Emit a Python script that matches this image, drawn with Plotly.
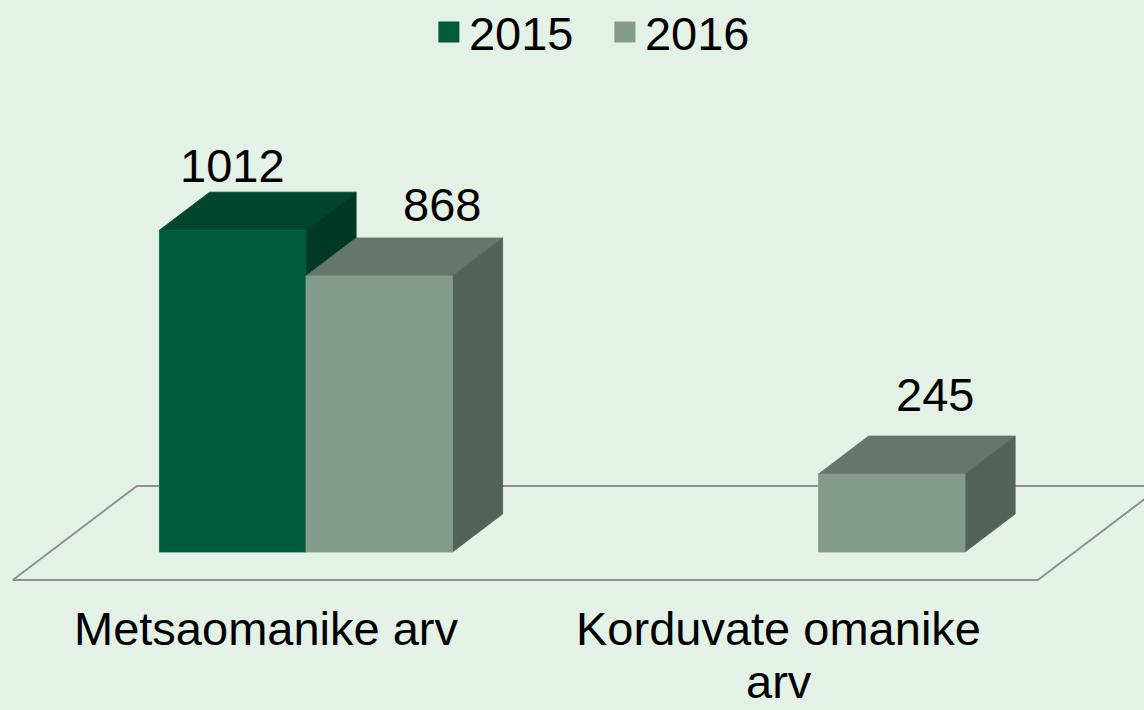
import plotly.graph_objects as go

# ---------------- data ----------------
categories = ["Metsaomanike arv", "Korduvate omanike<br>arv"]
series_names = ["2015", "2016"]
values_2015 = [1012, None]
values_2016 = [868, 245]

# ---------------- style ----------------
BG = "rgb(228,241,231)"
FRONT = ["rgb(0,90,60)", "rgb(131,155,141)"]
TOP = ["rgb(0,70,46)", "rgb(101,118,108)"]
SIDE = ["rgb(0,58,38)", "rgb(84,99,90)"]
FLOOR_LINE = "rgb(145,145,145)"
FONT = "Arial, Liberation Sans, sans-serif"
FS = 47

W, H = 1144, 710
M_B = 120
PLOT_H = H - M_B
PX_PER_CAT = 512.5      # pixels per category unit
PX_PER_VAL = 0.318      # pixels per value unit
X0_PX = 306             # pixel of category 0 centre
Y0_PX = 552             # pixel of value 0 (front plane)
x_range = [-X0_PX / PX_PER_CAT, (W - X0_PX) / PX_PER_CAT]
y_range = [-(PLOT_H - Y0_PX) / PX_PER_VAL, Y0_PX / PX_PER_VAL]

SLANT = 124 / 94        # horizontal shift per vertical pixel of depth
BAR_DEPTH = 38          # depth of bars (px)
FLOOR_FRONT = -28       # floor front edge depth (px)
FLOOR_BACK = 66         # floor back edge depth (px)
BAR_W = 146.5 / PX_PER_CAT

# label offsets (px) relative to front-top centre of each bar
label_shift = {(0, 0): (0, 65), (0, 1): (63, 71), (1, 1): (43.5, 80)}


def proj(xc, v, z):
    return xc + z * SLANT / PX_PER_CAT, v + z / PX_PER_VAL


def poly(points):
    xs, ys = [], []
    for p in points:
        x, y = proj(*p)
        xs.append(x)
        ys.append(y)
    xs.append(xs[0])
    ys.append(ys[0])
    return xs, ys


fig = go.Figure()

# floor
n = len(categories)
fx, fy = poly([(-0.5, 0, FLOOR_FRONT), (n - 0.5, 0, FLOOR_FRONT),
               (n - 0.5, 0, FLOOR_BACK), (-0.5, 0, FLOOR_BACK)])
fig.add_trace(go.Scatter(x=fx, y=fy, mode="lines",
                         line=dict(color=FLOOR_LINE, width=2),
                         hoverinfo="skip", showlegend=False))

series_values = [values_2015, values_2016]
annotations = []
for i in range(n):
    for s, vals in enumerate(series_values):
        v = vals[i]
        if v is None:
            continue
        x0 = i - BAR_W + s * BAR_W
        x1 = x0 + BAR_W
        faces = [
            (TOP[s], [(x0, v, 0), (x1, v, 0), (x1, v, BAR_DEPTH), (x0, v, BAR_DEPTH)]),
            (SIDE[s], [(x1, 0, 0), (x1, v, 0), (x1, v, BAR_DEPTH), (x1, 0, BAR_DEPTH)]),
            (FRONT[s], [(x0, 0, 0), (x1, 0, 0), (x1, v, 0), (x0, v, 0)]),
        ]
        for col, pts in faces:
            px, py = poly(pts)
            fig.add_trace(go.Scatter(x=px, y=py, mode="lines", fill="toself",
                                     fillcolor=col, line=dict(color=col, width=0.8),
                                     hoverinfo="skip", showlegend=False))
        dx, dy = label_shift.get((i, s), (0, 60))
        annotations.append(dict(x=(x0 + x1) / 2, y=v, xref="x", yref="y",
                                text=str(v), showarrow=False,
                                xshift=dx, yshift=dy,
                                xanchor="center", yanchor="middle",
                                font=dict(size=FS, color="black", family=FONT)))

# category labels (one annotation per line, tighter line spacing)
label_x_shift = FLOOR_FRONT * SLANT / PX_PER_CAT
LINE_H = 53
for i, cat in enumerate(categories):
    for k, line in enumerate(cat.split("<br>")):
        annotations.append(dict(x=i + label_x_shift, y=0, xref="x", yref="paper",
                                text=line, showarrow=False,
                                height=50 if k == 0 else 40,
                                xshift=-3, yshift=-(37.5 + LINE_H * k),
                                xanchor="center", yanchor="middle",
                                font=dict(size=FS, color="black", family=FONT)))

# legend entries
for s, name in enumerate(series_names):
    fig.add_trace(go.Scatter(x=[None], y=[None], mode="markers", name=name,
                             marker=dict(symbol="square", size=16, color=FRONT[s],
                                         line=dict(color=FRONT[s], width=5)),
                             showlegend=True))

fig.update_layout(
    width=W, height=H,
    paper_bgcolor=BG, plot_bgcolor=BG,
    margin=dict(l=0, r=0, t=0, b=M_B, autoexpand=False),
    font=dict(family=FONT, size=FS, color="black"),
    showlegend=True,
    legend=dict(orientation="h", x=0.52 + 10 / W, xanchor="center",
                y=1 + 5 / PLOT_H, yanchor="top", entrywidth=131,
                bgcolor="rgba(0,0,0,0)", font=dict(size=FS)),
    annotations=annotations,
    xaxis=dict(range=x_range, showgrid=False, zeroline=False, showline=False,
               showticklabels=False, ticks="", fixedrange=True),
    yaxis=dict(range=y_range, visible=False, showgrid=False, zeroline=False,
               fixedrange=True),
)

fig.write_html("out.html", config={"displayModeBar": False},
               post_script="document.body.style.margin='0px';"
                           "document.body.style.background='" + BG + "';")
